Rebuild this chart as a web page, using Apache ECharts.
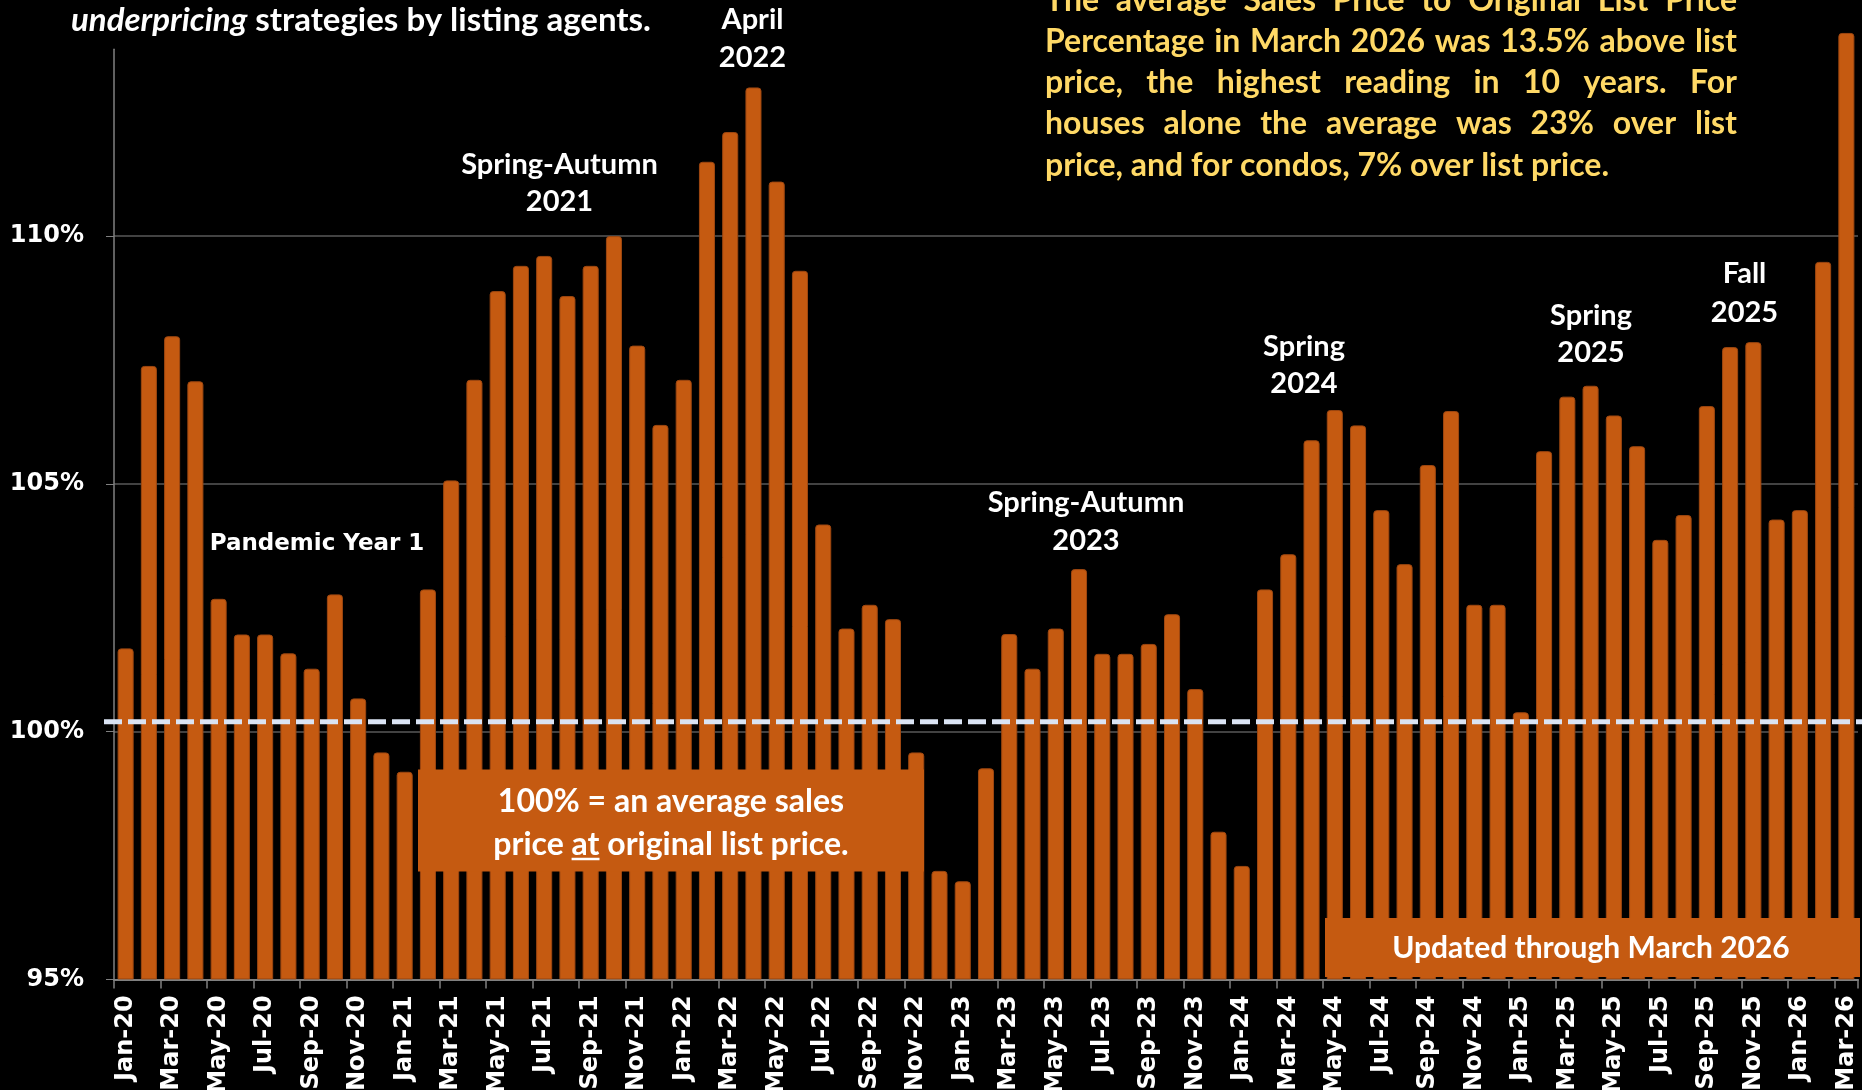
<!DOCTYPE html>
<html>
<head>
<meta charset="utf-8">
<title>Sales Price to Original List Price</title>
<script src="https://cdn.jsdelivr.net/npm/echarts@6/dist/echarts.min.js"></script>
<style>
  html, body { margin: 0; padding: 0; background: #000; }
  #chart { width: 1862px; height: 1090px; }
</style>
</head>
<body>
<div id="chart"></div>
<script>
  // month labels, Jan-20 .. Mar-26
  const months = ['Jan', 'Feb', 'Mar', 'Apr', 'May', 'Jun', 'Jul', 'Aug', 'Sep', 'Oct', 'Nov', 'Dec']
  const years = ['20', '21', '22', '23', '24', '25', '26']
  const monthsInLastYear = 3

  // sales price / original list price (%)
  const ratio2020 = [101.68, 107.38, 107.98, 107.07, 102.68, 101.96, 101.96, 101.58, 101.27, 102.77, 100.67, 99.58]
  const ratio2021 = [99.19, 102.87, 105.07, 107.10, 108.89, 109.40, 109.60, 108.79, 109.40, 110.00, 107.79, 106.19]
  const ratio2022 = [107.10, 111.50, 112.10, 113.00, 111.10, 109.30, 104.18, 102.08, 102.56, 102.27, 99.58, 97.19]
  const ratio2023 = [96.98, 99.26, 101.97, 101.27, 102.08, 103.28, 101.57, 101.57, 101.77, 102.37, 100.86, 97.98]
  const ratio2024 = [97.29, 102.87, 103.58, 105.88, 106.49, 106.18, 104.47, 103.38, 105.38, 106.47, 102.56, 102.56]
  const ratio2025 = [100.39, 105.66, 106.76, 106.98, 106.38, 105.76, 103.87, 104.37, 106.57, 107.76, 107.86, 104.28]
  const ratio2026 = [104.47, 109.48, 114.10]

  const yMin = 95
  const yMax = 113.77
  const yStep = 5
  const parLevel = 100.2 // dashed "list price" line

  const categories = []
  years.forEach((y, i) => {
    const n = i === years.length - 1 ? monthsInLastYear : 12
    for (let m = 0; m < n; m++) categories.push(months[m] + '-' + y)
  })
  const ratio = [].concat(ratio2020, ratio2021, ratio2022, ratio2023, ratio2024, ratio2025, ratio2026)

  const ORANGE = '#C55A11'
  const YELLOW = '#FFD966'
  const CAL = 'Lato'
  const VER = '"DejaVu Sans"'

  const chart = echarts.init(document.getElementById('chart'))

  chart.setOption({
    backgroundColor: '#000',
    animation: false,
    grid: { left: 114, right: 4, top: 49.3, bottom: 110.6, outerBoundsMode: 'none', containLabel: false },
    xAxis: {
      type: 'category',
      data: categories,
      boundaryGap: true,
      axisLine: { lineStyle: { color: '#808080', width: 2 } },
      axisTick: { show: true, interval: 1, length: 9, lineStyle: { color: '#808080', width: 1.5 } },
      axisLabel: {
        interval: 1, rotate: 90, margin: 16,
        color: '#fff', fontFamily: 'DejaVu Sans', fontWeight: 'bold', fontSize: 24
      }
    },
    yAxis: {
      type: 'value',
      min: yMin,
      max: yMax,
      startValue: yMin, // bars grow from the bottom of the axis
      interval: yStep,
      axisLine: { show: true, lineStyle: { color: '#808080', width: 1.5 } },
      axisTick: { show: true, length: 8, lineStyle: { color: '#808080' } },
      axisLabel: {
        showMaxLabel: false,
        formatter: v => (v % yStep === 0 ? v + '%' : ''),
        margin: 30, color: '#fff', fontFamily: 'DejaVu Sans', fontWeight: 'bold', fontSize: 24
      },
      splitLine: { show: true, showMaxLine: false, lineStyle: { color: '#595959', width: 1.5 } }
    },
    series: [{
      type: 'bar',
      data: ratio,
      barWidth: '69%',
      clip: false,
      itemStyle: { color: ORANGE, borderRadius: [3, 3, 0, 0], borderColor: '#9e4710', borderWidth: 1 }
    }]
  })

  // ---- annotations ----
  const ctx = document.createElement('canvas').getContext('2d')
  function textWidth(str, font) { ctx.font = font; return ctx.measureText(str).width }

  function txt(text, x, y, font, fill, align) {
    return {
      type: 'text', z: 101, x: x, y: y,
      style: { text: text, font: font, fill: fill, align: align || 'center', verticalAlign: 'middle',
               textAlign: align || 'center', textVerticalAlign: 'middle' }
    }
  }

  function justified(lines, left, right, top, lineGap, font, fill) {
    const els = []
    lines.forEach((line, i) => {
      const y = top + i * lineGap
      if (i === lines.length - 1) { els.push(txt(line, left, y, font, fill, 'left')); return }
      const words = line.split(' ')
      const widths = words.map(w => textWidth(w, font))
      const gap = (right - left - widths.reduce((a, b) => a + b, 0)) / (words.length - 1)
      let x = left
      words.forEach((w, k) => { els.push(txt(w, x, y, font, fill, 'left')); x += widths[k] + gap })
    })
    return els
  }

  const labelFont = 'bold 29px ' + CAL
  const noteLines = [
    'The average Sales Price to Original List Price',
    'Percentage in March 2026 was 13.5% above list',
    'price, the highest reading in 10 years. For',
    'houses alone the average was 23% over list',
    'price, and for condos, 7% over list price.'
  ]
  const noteFont = 'bold 32px ' + CAL

  const parY = chart.convertToPixel({ yAxisIndex: 0 }, parLevel)

  const els = []
  // dashed reference line
  els.push({
    type: 'line', z: 90,
    shape: { x1: 104, y1: parY, x2: 1862, y2: parY },
    style: { stroke: '#DAE3F3', lineWidth: 5, lineDash: [18, 6] }
  })

  // top-left caption (partly cut off)
  const capFontI = 'italic bold 33px ' + CAL
  const capFont = 'bold 33px ' + CAL
  const capX = 71
  els.push(txt('underpricing', capX, 20, capFontI, '#fff', 'left'))
  els.push(txt(' strategies by listing agents.', capX + textWidth('underpricing', capFontI), 20, capFont, '#fff', 'left'))

  // yellow note, justified
  els.push(...justified(noteLines, 1045, 1737, 0.4, 41.2, noteFont, YELLOW))

  // period labels
  els.push(txt('Pandemic Year 1', 317, 544, 'bold 23px ' + VER, '#fff'))
  els.push(txt('Spring-Autumn', 559.5, 165, labelFont, '#fff'), txt('2021', 559.5, 202, labelFont, '#fff'))
  els.push(txt('April', 752.5, 20, labelFont, '#fff'), txt('2022', 752.5, 58, labelFont, '#fff'))
  els.push(txt('Spring-Autumn', 1086, 502.5, labelFont, '#fff'), txt('2023', 1086, 540.3, labelFont, '#fff'))
  els.push(txt('Spring', 1304, 347, labelFont, '#fff'), txt('2024', 1304, 384, labelFont, '#fff'))
  els.push(txt('Spring', 1591, 316, labelFont, '#fff'), txt('2025', 1591, 353, labelFont, '#fff'))
  els.push(txt('Fall', 1744.5, 274, labelFont, '#fff'), txt('2025', 1744.5, 313, labelFont, '#fff'))

  // "100% = ..." box
  const boxFont = 'bold 32px ' + CAL
  els.push({ type: 'rect', z: 100, shape: { x: 418, y: 769.5, width: 506, height: 102 }, style: { fill: ORANGE } })
  els.push(txt('100% = an average sales', 671, 802, boxFont, '#fff'))
  const l2 = 'price at original list price.'
  const l2Left = 671 - textWidth(l2, boxFont) / 2
  els.push(txt(l2, 671, 844.5, boxFont, '#fff'))
  const atX = l2Left + textWidth('price ', boxFont)
  els.push({
    type: 'line', z: 101,
    shape: { x1: atX, y1: 859, x2: atX + textWidth('at', boxFont), y2: 859 },
    style: { stroke: '#fff', lineWidth: 2.5 }
  })

  // "Updated through" box
  els.push({ type: 'rect', z: 100, shape: { x: 1325, y: 918, width: 535, height: 59 }, style: { fill: ORANGE } })
  els.push(txt('Updated through March 2026', 1591, 948, 'bold 30px ' + CAL, '#fff'))

  chart.setOption({ graphic: { elements: els } })
</script>
</body>
</html>
